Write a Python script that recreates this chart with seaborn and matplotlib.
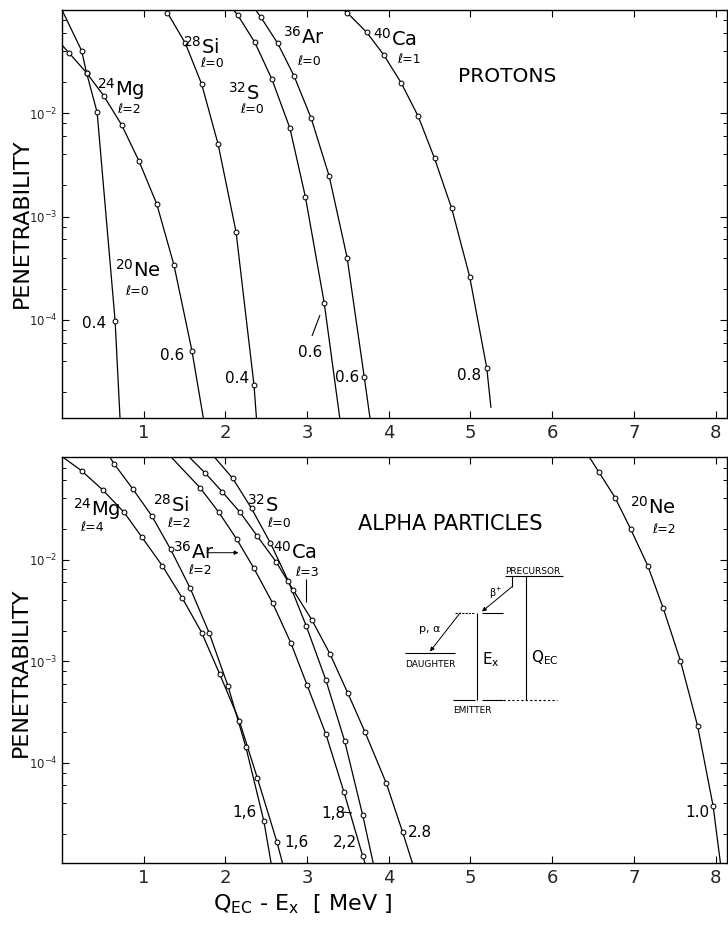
import numpy as np
import pandas as pd
import matplotlib
matplotlib.use("Agg")
import matplotlib.pyplot as plt
from matplotlib.ticker import LogLocator, NullFormatter, NullLocator
import seaborn as sns

# ---------------- data ----------------
# first and last entries of each curve are where the curve meets the frame
# PROTONS
ne_p_x = [0.00, 0.24, 0.30, 0.43, 0.65, 0.71]
ne_p_y = [1.0e-1, 4.04e-2, 2.47e-2, 1.02e-2, 9.8e-5, 1.12e-5]
mg_p_x = [0.00, 0.09, 0.30, 0.51, 0.73, 0.94, 1.16, 1.37, 1.59, 1.73]
mg_p_y = [4.58e-2, 3.81e-2, 2.47e-2, 1.48e-2, 7.71e-3, 3.48e-3, 1.32e-3, 3.40e-4, 5.04e-5, 1.12e-5]
si_p_x = [1.28, 1.29, 1.51, 1.71, 1.91, 2.13, 2.35, 2.38]
si_p_y = [1.0e-1, 9.42e-2, 4.76e-2, 1.91e-2, 5.05e-3, 7.14e-4, 2.34e-5, 1.12e-5]
s_p_x = [2.10, 2.15, 2.36, 2.57, 2.79, 2.98, 3.21, 3.40]
s_p_y = [1.0e-1, 8.95e-2, 4.86e-2, 2.13e-2, 7.16e-3, 1.54e-3, 1.45e-4, 1.12e-5]
ar_p_x = [2.37, 2.43, 2.64, 2.84, 3.05, 3.27, 3.49, 3.70, 3.77]
ar_p_y = [1.0e-1, 8.61e-2, 4.76e-2, 2.30e-2, 8.95e-3, 2.47e-3, 4.00e-4, 2.78e-5, 1.12e-5]
ca_p_x = [3.45, 3.49, 3.73, 3.94, 4.15, 4.36, 4.56, 4.77, 4.99, 5.20, 5.25]
ca_p_y = [1.0e-1, 9.42e-2, 6.08e-2, 3.66e-2, 1.98e-2, 9.35e-3, 3.66e-3, 1.20e-3, 2.62e-4, 3.39e-5, 1.42e-5]

# ALPHA PARTICLES
mg_a_x = [0.00, 0.24, 0.50, 0.76, 0.98, 1.23, 1.47, 1.71, 1.93, 2.17, 2.39, 2.63, 2.70]
mg_a_y = [1.03e-1, 7.46e-2, 4.82e-2, 2.91e-2, 1.65e-2, 8.63e-3, 4.21e-3, 1.91e-3, 7.48e-4, 2.60e-4, 7.14e-5, 1.68e-5, 1.03e-5]
si_a_x = [0.58, 0.64, 0.87, 1.10, 1.33, 1.57, 1.80, 2.03, 2.25, 2.47, 2.56]
si_a_y = [1.03e-1, 8.69e-2, 4.90e-2, 2.68e-2, 1.26e-2, 5.21e-3, 1.91e-3, 5.77e-4, 1.44e-4, 2.70e-5, 1.03e-5]
ar_a_x = [1.33, 1.69, 1.92, 2.14, 2.35, 2.58, 2.80, 3.00, 3.23, 3.45, 3.68, 3.71]
ar_a_y = [1.03e-1, 5.08e-2, 2.91e-2, 1.58e-2, 8.18e-3, 3.71e-3, 1.52e-3, 5.83e-4, 1.92e-4, 5.21e-5, 1.22e-5, 1.03e-5]
s_a_x = [1.86, 2.09, 2.32, 2.55, 2.77, 2.99, 3.23, 3.46, 3.68, 3.81]
s_a_y = [1.03e-1, 6.28e-2, 3.18e-2, 1.46e-2, 6.15e-3, 2.22e-3, 6.53e-4, 1.64e-4, 3.08e-5, 1.03e-5]
ca_a_x = [1.55, 1.75, 1.96, 2.18, 2.39, 2.62, 2.83, 3.06, 3.28, 3.50, 3.71, 3.97, 4.17, 4.29]
ca_a_y = [1.03e-1, 7.13e-2, 4.65e-2, 2.91e-2, 1.70e-2, 9.51e-3, 5.01e-3, 2.54e-3, 1.18e-3, 4.83e-4, 2.00e-4, 6.30e-5, 2.08e-5, 1.03e-5]
ne_a_x = [6.45, 6.57, 6.77, 6.96, 7.17, 7.36, 7.57, 7.78, 7.97, 8.06]
ne_a_y = [1.03e-1, 7.29e-2, 4.06e-2, 2.00e-2, 8.69e-3, 3.31e-3, 1.01e-3, 2.31e-4, 3.77e-5, 1.03e-5]

x_ticks = [1, 2, 3, 4, 5, 6, 7, 8]
y_ticks = [1e-4, 1e-3, 1e-2]
y_ticklabels = [r"$10^{-4}$", r"$10^{-3}$", r"$10^{-2}$"]

# ---------------- table ----------------
def frame(panel, name, xs, ys):
    n = len(xs)
    return pd.DataFrame({"panel": panel, "curve": name, "x": xs, "y": ys,
                         "pt": [False] + [True] * (n - 2) + [False]})

df = pd.concat([
    frame("p", "Ne", ne_p_x, ne_p_y), frame("p", "Mg", mg_p_x, mg_p_y),
    frame("p", "Si", si_p_x, si_p_y), frame("p", "S", s_p_x, s_p_y),
    frame("p", "Ar", ar_p_x, ar_p_y), frame("p", "Ca", ca_p_x, ca_p_y),
    frame("a", "Mg", mg_a_x, mg_a_y), frame("a", "Si", si_a_x, si_a_y),
    frame("a", "Ar", ar_a_x, ar_a_y), frame("a", "S", s_a_x, s_a_y),
    frame("a", "Ca", ca_a_x, ca_a_y), frame("a", "Ne", ne_a_x, ne_a_y),
], ignore_index=True)

# ---------------- style ----------------
sns.set_theme(style="ticks")
plt.rcParams["font.family"] = ["DejaVu Sans"]
plt.rcParams["mathtext.default"] = "regular"
plt.rcParams["axes.linewidth"] = 1.0

W, H = 728, 927
fig = plt.figure(figsize=(W / 100, H / 100), dpi=100)
fig.patch.set_facecolor("white")

ax_top = fig.add_axes([62 / W, 1 - 418 / H, 665 / W, 408 / H])
ax_bot = fig.add_axes([62 / W, 1 - 863.3 / H, 665 / W, 406.6 / H])
ylims = {"p": (1.12e-5, 1.0e-1), "a": (1.03e-5, 1.026e-1)}

for ax, panel in [(ax_top, "p"), (ax_bot, "a")]:
    ax.set_yscale("log")
    d = df[df.panel == panel]
    sns.lineplot(data=d, x="x", y="y", units="curve", estimator=None, sort=False,
                 color="black", lw=0.9, ax=ax, legend=False)
    sns.scatterplot(data=d[d.pt], x="x", y="y", marker="o", s=12, color="white",
                    edgecolor="black", linewidth=0.75, ax=ax, legend=False, zorder=3)
    ax.set_xlim(0, 8.14)
    ax.set_ylim(*ylims[panel])
    ax.set_xticks(x_ticks)
    ax.set_xticklabels([str(t) for t in x_ticks], fontsize=13)
    ax.xaxis.set_minor_locator(NullLocator())
    ax.set_yticks(y_ticks)
    ax.set_yticklabels(y_ticklabels, fontsize=8.5)
    ax.yaxis.set_minor_locator(LogLocator(base=10, subs=(2, 4, 6, 8), numticks=30))
    ax.yaxis.set_minor_formatter(NullFormatter())
    ax.tick_params(which="both", direction="in", top=True, right=True, color="black")
    ax.tick_params(which="major", length=5, width=0.8)
    ax.tick_params(axis="x", which="major", pad=4)
    ax.tick_params(axis="y", which="major", pad=3)
    ax.tick_params(which="minor", length=3, width=0.7)
    ax.set_xlabel("")
    ax.set_ylabel("")
    for sp in ax.spines.values():
        sp.set_color("black")
        sp.set_linewidth(1.0)

# ---------------- overlay for annotations (pixel coords) ----------------
ov = fig.add_axes([0, 0, 1, 1], zorder=5)
ov.set_xlim(0, W)
ov.set_ylim(H, 0)
ov.axis("off")
ov.patch.set_alpha(0)

def T(px, py, s, fs, **kw):
    ov.text(px, py, s, fontsize=fs, ha=kw.pop("ha", "left"), va=kw.pop("va", "baseline"),
            color="black", **kw)

def L(xs, ys, **kw):
    ov.plot(xs, ys, color="black", lw=kw.pop("lw", 0.8), solid_capstyle="butt", **kw)

def A(x0, y0, x1, y1):
    ov.annotate("", xy=(x1, y1), xytext=(x0, y0),
                arrowprops=dict(arrowstyle="-|>", lw=0.7, color="black",
                                mutation_scale=6, shrinkA=0, shrinkB=0))

# axis titles
T(22, 223, "PENETRABILITY", 16, rotation=90, ha="center", va="center")
T(21, 672, "PENETRABILITY", 16, rotation=90, ha="center", va="center")
T(213, 910, r"Q$_{EC}$ - E$_{x}$  [ MeV ]", 16)

# top panel labels
T(97, 96, r"$^{24}$Mg", 14)
T(117, 113, "ℓ=2", 9)
T(183, 54, r"$^{28}$Si", 14)
T(200, 67, "ℓ=0", 9)
T(228, 100, r"$^{32}$S", 14)
T(240, 113, "ℓ=0", 9)
T(283, 44, r"$^{36}$Ar", 14)
T(297, 65, "ℓ=0", 9)
T(373, 46, r"$^{40}$Ca", 14)
T(397, 63, "ℓ=1", 9)
T(458, 82, "PROTONS", 14.5)
T(115, 277, r"$^{20}$Ne", 14)
T(125, 295, "ℓ=0", 9)
T(82, 328, "0.4", 11)
T(160, 360, "0.6", 11)
T(225, 383, "0.4", 11)
T(298, 357, "0.6", 11)
L([312, 320], [336, 315])
T(335, 382, "0.6", 11)
T(457, 380, "0.8", 11)

# bottom panel labels
T(73, 516, r"$^{24}$Mg", 14)
T(80, 531, "ℓ=4", 9)
T(153, 512, r"$^{28}$Si", 14)
T(167, 527, "ℓ=2", 9)
T(173, 559, r"$^{36}$Ar", 14)
A(207, 552.7, 238.5, 552.7)
T(188, 574, "ℓ=2", 9)
T(246.7, 512, r"$^{32}$S", 14)
T(267, 527, "ℓ=0", 9)
T(273, 559, r"$^{40}$Ca", 14)
T(295, 576, "ℓ=3", 9)
L([305.7, 305.7], [579, 601.7])
T(358, 530, "ALPHA PARTICLES", 15)
T(630, 514, r"$^{20}$Ne", 14)
T(652, 533, "ℓ=2", 9)
T(685, 817, "1.0", 11)
T(408, 837, "2.8", 11)
T(333, 847, "2,2", 11)
T(321, 818, "1,8", 11)
L([338, 352], [811.5, 813])
T(232, 817, "1,6", 11)
T(284, 847, "1,6", 11)

# inset level diagram
L([505, 563], [576, 576])
T(505, 574, "PRECURSOR", 6.5)
L([511.7, 511.7], [576, 587])
A(511.7, 587, 482, 611.5)
T(489, 597, r"$\beta^{+}$", 7)
L([455, 475], [612.7, 612.7], ls=(0, (2, 1)))
L([481.7, 503.3], [612.7, 612.7])
L([477.3, 477.3], [612.7, 700])
T(482, 664, r"E$_{x}$", 11)
L([526, 526], [576, 700])
T(531, 662, r"Q$_{EC}$", 11)
A(460, 613, 430, 651.5)
T(419, 632, "p, α", 8)
L([405, 455], [652.7, 652.7])
T(405, 667, "DAUGHTER", 6.5)
L([453, 475], [700, 700])
L([481.7, 503.3], [700, 700])
L([503.3, 557], [700, 700], ls=(0, (2, 2)))
T(453, 713, "EMITTER", 6.5)

fig.savefig("out.png", dpi=100, facecolor="white")
